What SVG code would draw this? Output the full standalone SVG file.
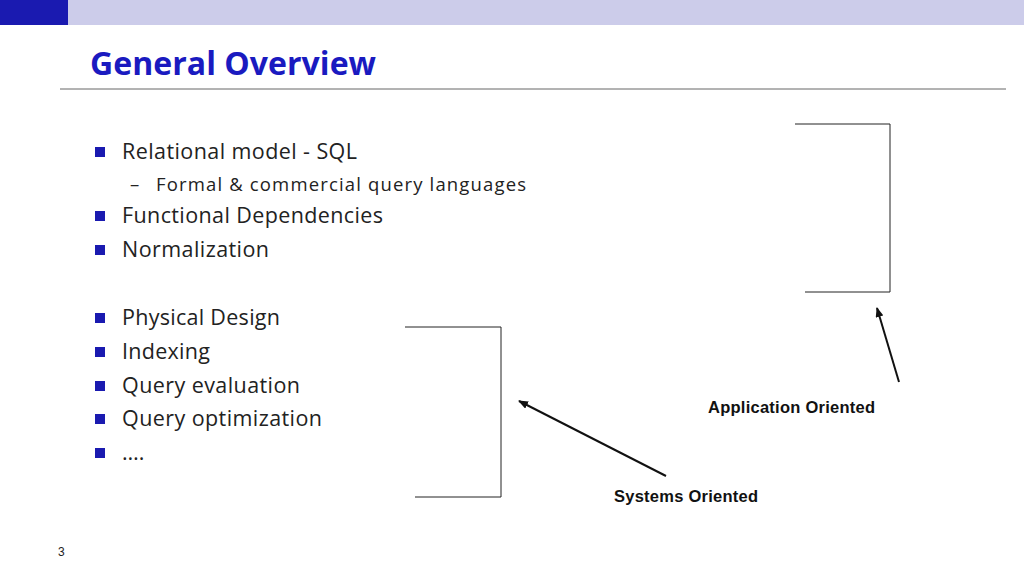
<svg xmlns="http://www.w3.org/2000/svg" width="1024" height="576" viewBox="0 0 1024 576">
<style>
.b{font-family:"Open Sans","Noto Sans",sans-serif;font-size:21.5px;fill:#222}
.s{font-family:"Open Sans","Noto Sans",sans-serif;font-size:18.5px;fill:#222}
.l{font-family:"Liberation Sans",Arial,sans-serif;font-size:16.5px;font-weight:bold;fill:#111}
.ln{stroke:#222;stroke-width:1;fill:none}
.bl{fill:#1a1ab0}
</style>
<defs><marker id="a" markerWidth="10" markerHeight="8" refX="9" refY="4" orient="auto" markerUnits="userSpaceOnUse"><path d="M0,0L10,4L0,8z" fill="#111"/></marker></defs>
<rect x="0" y="0" width="1024" height="25" fill="#ccccea"/>
<rect x="0" y="0" width="68" height="25" fill="#1a1ab0"/>
<text x="90" y="75" font-family="Open Sans,Noto Sans,sans-serif" font-size="32" font-weight="bold" fill="#1a1ac0" textLength="286">General Overview</text>
<line x1="60" y1="89" x2="1006" y2="89" stroke="#666" stroke-width="1"/>
<g id="bullets">
<rect class="bl" x="95" y="147" width="10" height="10"/><text class="b" x="122" y="159" textLength="235">Relational model - SQL</text>
<text class="s" x="130" y="191" fill="#1a1ab0">–</text><text class="s" x="156" y="191" textLength="370">Formal  &amp; commercial query languages</text>
<rect class="bl" x="95" y="211" width="10" height="10"/><text class="b" x="122" y="223" textLength="261">Functional Dependencies</text>
<rect class="bl" x="95" y="245" width="10" height="10"/><text class="b" x="122" y="257" textLength="147">Normalization</text>
<rect class="bl" x="95" y="313" width="10" height="10"/><text class="b" x="122" y="325" textLength="158">Physical Design</text>
<rect class="bl" x="95" y="347" width="10" height="10"/><text class="b" x="122" y="359" textLength="88">Indexing</text>
<rect class="bl" x="95" y="381" width="10" height="10"/><text class="b" x="122" y="393" textLength="178">Query evaluation</text>
<rect class="bl" x="95" y="414" width="10" height="10"/><text class="b" x="122" y="426" textLength="200">Query optimization</text>
<rect class="bl" x="95" y="448" width="10" height="10"/><text class="b" x="122" y="460">….</text>
</g>
<g id="bracket-app"><path class="ln" d="M795,124H890V292H805"/></g>
<g id="bracket-sys"><path class="ln" d="M405,327H501V497H415"/></g>
<g id="label-app"><text class="l" x="708" y="413" textLength="167">Application Oriented</text></g>
<g id="label-sys"><text class="l" x="614" y="502" textLength="144">Systems Oriented</text></g>
<g id="connectors">
<line x1="899" y1="382" x2="877" y2="308" stroke="#111" stroke-width="2" marker-end="url(#a)"/>
<line x1="666" y1="476" x2="519" y2="401" stroke="#111" stroke-width="2" marker-end="url(#a)"/>
</g>
<text x="58" y="556" font-family="Liberation Sans,Arial,sans-serif" font-size="12" fill="#222">3</text>
</svg>
